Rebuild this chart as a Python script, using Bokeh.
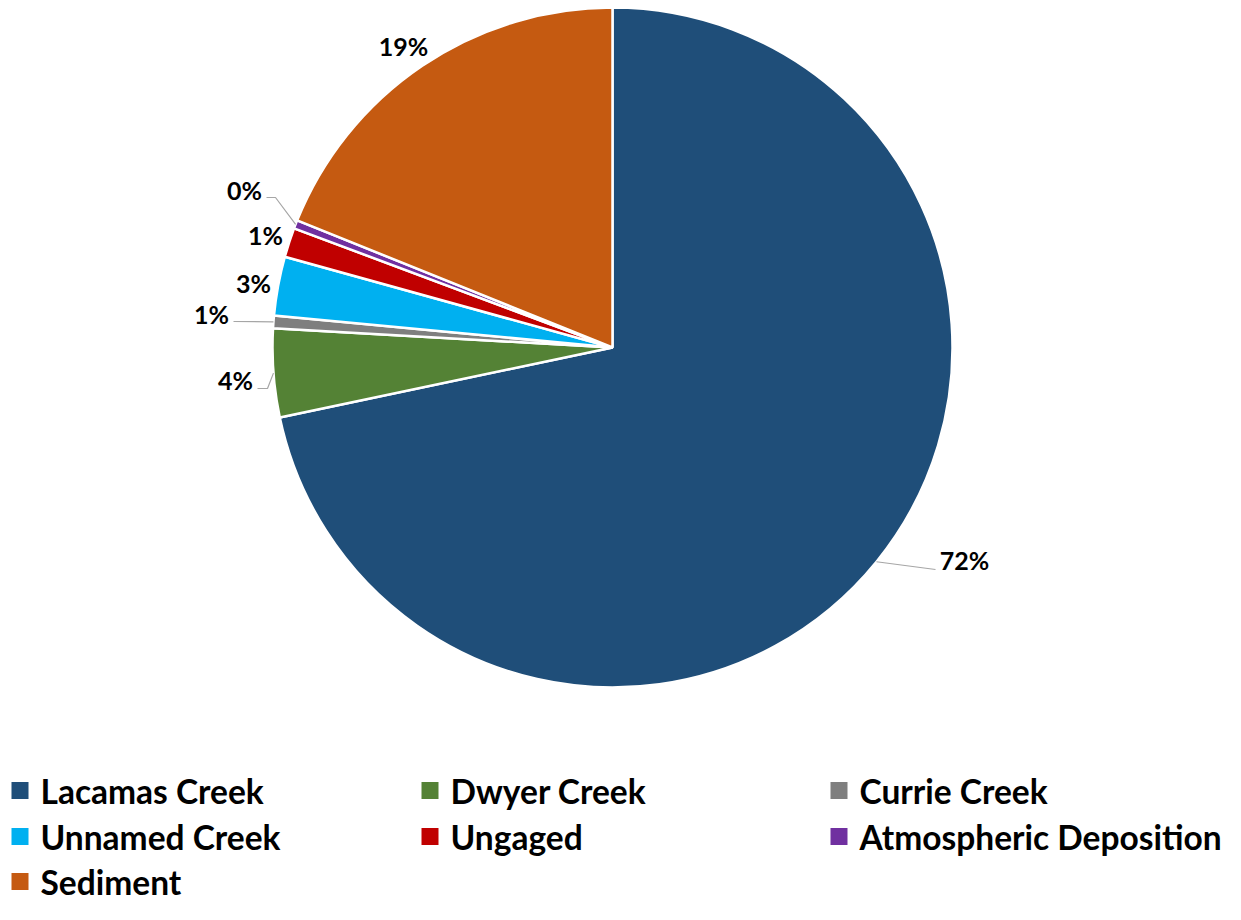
import math
from bokeh.plotting import figure
from bokeh.models import Range1d, ColumnDataSource
from bokeh.core.properties import value
from bokeh.embed import file_html
from bokeh.resources import INLINE

# ---- data ----
categories = ["Lacamas Creek", "Dwyer Creek", "Currie Creek", "Unnamed Creek",
              "Ungaged", "Atmospheric Deposition", "Sediment"]
shares = [71.7, 4.2, 0.6, 2.8, 1.4, 0.4, 18.9]
colors = ["#1F4E79", "#548235", "#7F7F7F", "#00B0F0", "#C00000", "#7030A0", "#C55A11"]

# ---- layout (pixel coordinates) ----
W, H = 1225, 904
CX, CY, R = 612, 347, 340
FONT = "Lato"

p = figure(width=W, height=H, output_backend="svg", toolbar_location=None,
           x_range=Range1d(0, W), y_range=Range1d(-H, 0),
           min_border=0, x_axis_location=None, y_axis_location=None)
p.grid.visible = False
p.outline_line_color = None
p.background_fill_color = "white"

total = sum(shares)
starts, ends, mids = [], [], []
cum = 0.0
for v in shares:
    a0 = math.pi / 2 - 2 * math.pi * cum / total
    cum += v
    a1 = math.pi / 2 - 2 * math.pi * cum / total
    starts.append(a0)
    ends.append(a1)
    mids.append((a0 + a1) / 2)

src = ColumnDataSource(dict(start=starts, end=ends, color=colors, name=categories))
p.wedge(x=CX, y=-CY, radius=R, start_angle="start", end_angle="end",
        direction="clock", fill_color="color", line_color="white", line_width=2.5,
        source=src)

# ---- data labels (positions are layout) ----
label_pos = [(964, 559), (235, 379), (211, 313), (253, 282), (265, 234), (244, 189), (403, 45)]
labels = [f"{v / total * 100:.0f}%" for v in shares]
p.text(x=[q[0] for q in label_pos], y=[-q[1] for q in label_pos], text=labels,
       text_font=value(FONT), text_font_style="bold", text_font_size="25px",
       text_color="black", text_align="center", text_baseline="middle")

# leader lines: from slice edge at mid angle to label
leader_idx = [0, 1, 2, 5]
leader_end = {0: [(935, 569)], 1: [(267, 388), (257, 388)], 2: [(233, 321)],
              5: [(275, 197), (266, 197)]}
xs, ys = [], []
for i in leader_idx:
    ex = CX + R * math.cos(mids[i])
    ey = CY - R * math.sin(mids[i])
    pts = [(ex, ey)] + leader_end[i]
    xs.append([q[0] for q in pts])
    ys.append([-q[1] for q in pts])
p.multi_line(xs=xs, ys=ys, line_color="#A6A6A6", line_width=1.2)

# ---- legend ----
col_x = [11, 421, 830]
row_y = [790, 836, 881]
lx, ly, tx = [], [], []
for k, name in enumerate(categories):
    c, r = k % 3, k // 3
    lx.append(col_x[c] + 8.5)
    ly.append(-row_y[r])
    tx.append(col_x[c] + 29)
p.scatter(x=lx, y=ly, marker="square", size=17, fill_color=colors, line_color=None)
p.text(x=tx, y=ly, text=categories, text_font=value(FONT), text_font_style="bold",
       text_font_size="33.5px", text_color="black", text_align="left", text_baseline="middle")

open("out.html", "w").write(file_html(p, INLINE))
